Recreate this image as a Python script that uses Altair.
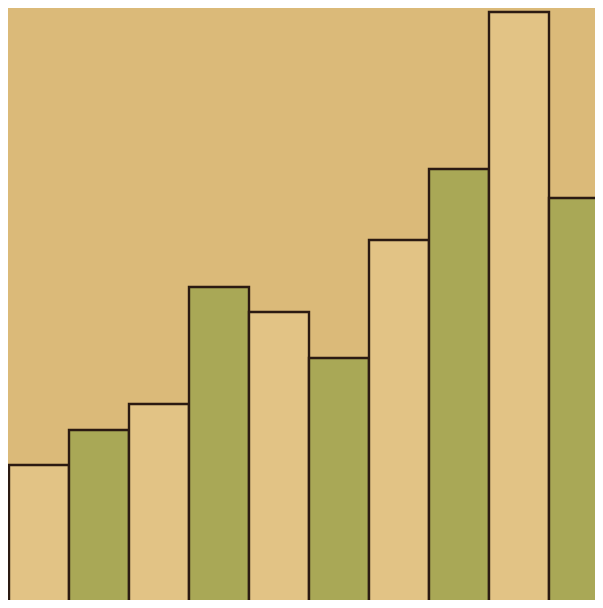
import altair as alt
import pandas as pd

bars = ["1", "2", "3", "4", "5", "6", "7", "8", "9", "10"]
values = [148, 183, 209, 326, 301, 255, 373, 444, 601, 415]
kinds = ["light", "green", "light", "green", "light", "green", "light", "green", "light", "green"]

df = pd.DataFrame({"bar": bars, "value": values, "kind": kinds})

chart = (
    alt.Chart(df)
    .mark_bar(stroke="#2b1a12", strokeWidth=2.4, clip=True)
    .encode(
        x=alt.X("bar:N", sort=bars, axis=None,
                scale=alt.Scale(paddingInner=0, paddingOuter=0, range=[1, 601])),
        y=alt.Y("value:Q", axis=None, scale=alt.Scale(domain=[13, 605], nice=False, zero=False)),
        y2=alt.datum(0),
        color=alt.Color("kind:N", legend=None,
                        scale=alt.Scale(domain=["light", "green"], range=["#e2c385", "#a9a856"])),
    )
    .properties(width=587, height=592, padding=0,
                autosize=alt.AutoSizeParams(type="fit", contains="padding"))
    .configure(background="#dbba79")
    .configure_view(stroke=None)
)

chart.save("out.html", embed_options={"renderer": "svg", "actions": False})
